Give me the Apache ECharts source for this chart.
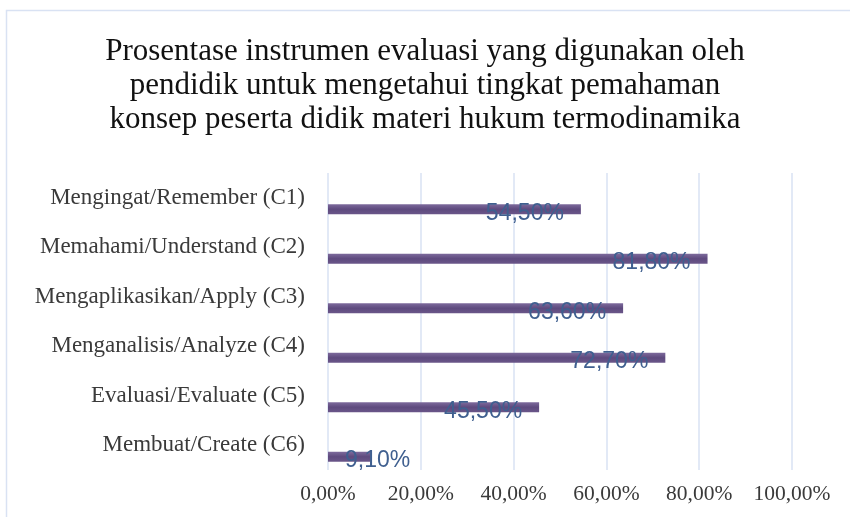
<!DOCTYPE html>
<html>
<head>
<meta charset="utf-8">
<script src="https://cdn.jsdelivr.net/npm/echarts@6/dist/echarts.min.js"></script>
<style>
  html, body { margin: 0; padding: 0; background: #fff; }
  #chart { width: 850px; height: 517px; }
</style>
</head>
<body>
<div id="chart"></div>
<script>
const titleText = 'Prosentase instrumen evaluasi yang digunakan oleh\npendidik untuk mengetahui tingkat pemahaman\nkonsep peserta didik materi hukum termodinamika';
const categories = [
  'Mengingat/Remember (C1)',
  'Memahami/Understand (C2)',
  'Mengaplikasikan/Apply (C3)',
  'Menganalisis/Analyze (C4)',
  'Evaluasi/Evaluate (C5)',
  'Membuat/Create (C6)'
];
const values = [54.5, 81.8, 63.6, 72.7, 45.5, 9.1];
const xMin = 0, xMax = 100, xStep = 20;

const fmt = v => v.toFixed(2).replace('.', ',') + '%';

const barData = values.map(v => {
  const item = { value: v };
  if (v < 15) {
    item.label = { position: 'insideLeft', offset: [12, 4] };
  }
  return item;
});

const chart = echarts.init(document.getElementById('chart'), null, { renderer: 'canvas' });
chart.setOption({
  backgroundColor: '#ffffff',
  animation: false,
  graphic: [{
    type: 'rect',
    shape: { x: 6.5, y: 10.5, width: 900, height: 600 },
    style: { fill: 'none', stroke: '#D9E2F3', lineWidth: 1.5 },
    silent: true
  }],
  title: {
    text: titleText,
    left: 'center',
    top: 30,
    textStyle: {
      fontFamily: 'Liberation Serif',
      fontSize: 31,
      fontWeight: 'normal',
      color: '#111111',
      lineHeight: 34
    }
  },
  grid: { left: 328, right: 58, top: 173, bottom: 47 },
  xAxis: {
    type: 'value',
    min: xMin,
    max: xMax,
    interval: xStep,
    axisLine: { show: false },
    axisTick: { show: false },
    splitLine: { show: true, lineStyle: { color: '#D9E2F3', width: 1.5 } },
    axisLabel: {
      formatter: v => fmt(v),
      fontFamily: 'Liberation Serif',
      fontSize: 21.5,
      color: '#3a3a3a',
      margin: 13
    }
  },
  yAxis: {
    type: 'category',
    data: categories,
    inverse: true,
    axisLine: { show: false },
    axisTick: { show: false },
    axisLabel: {
      fontFamily: 'Liberation Serif',
      fontSize: 23,
      color: '#3a3a3a',
      margin: 23
    }
  },
  series: [
    {
      name: 'spacer',
      type: 'bar',
      data: [],
      barWidth: 10,
      barGap: '130%'
    },
    {
      name: 'Prosentase',
      type: 'bar',
      data: barData,
      barWidth: 10,
      barGap: '130%',
      itemStyle: {
        color: new echarts.graphic.LinearGradient(0, 0, 0, 1, [
          { offset: 0, color: '#7D6A9C' },
          { offset: 0.5, color: '#5E4A7E' },
          { offset: 1, color: '#6A5689' }
        ])
      },
      label: {
        show: true,
        position: 'insideRight',
        offset: [-12, 4],
        formatter: p => fmt(p.value),
        fontFamily: 'Liberation Sans',
        fontSize: 23,
        color: '#3F5F8F'
      }
    }
  ]
});
</script>
</body>
</html>
